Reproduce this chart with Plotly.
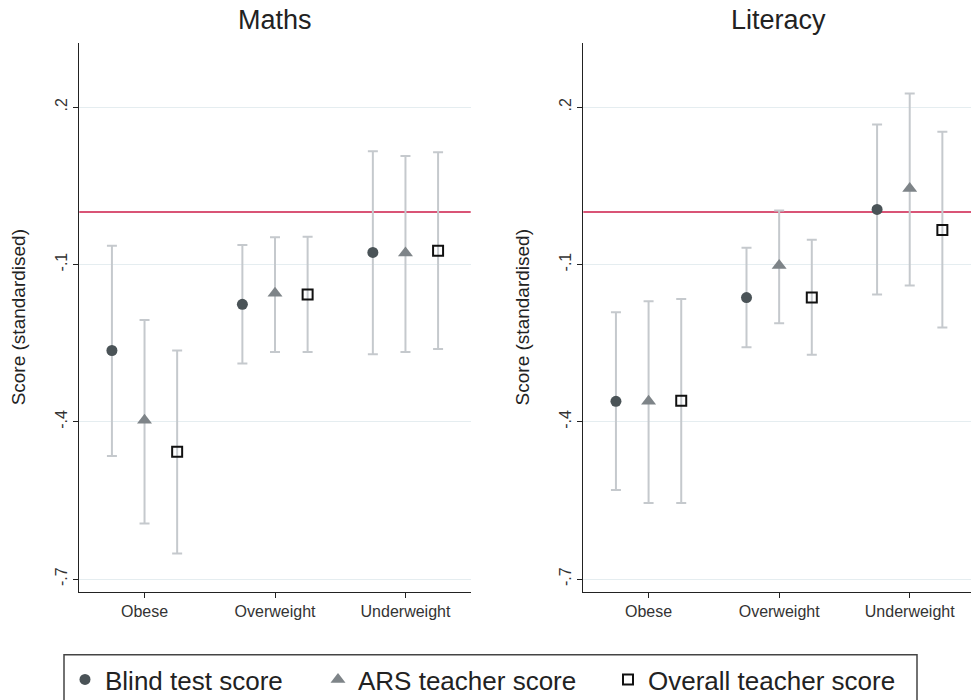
import plotly.graph_objects as go

categories = ["Obese", "Overweight", "Underweight"]
series_names = ["Blind test score", "ARS teacher score", "Overall teacher score"]

# Maths panel: point estimates and 95% CI bounds
maths_blind = [-0.264, -0.176, -0.077]
maths_blind_lo = [-0.465, -0.289, -0.271]
maths_blind_hi = [-0.064, -0.063, 0.116]
maths_ars = [-0.397, -0.155, -0.078]
maths_ars_lo = [-0.594, -0.267, -0.267]
maths_ars_hi = [-0.206, -0.048, 0.107]
maths_overall = [-0.457, -0.157, -0.074]
maths_overall_lo = [-0.651, -0.267, -0.261]
maths_overall_hi = [-0.264, -0.047, 0.114]

# Literacy panel
lit_blind = [-0.361, -0.163, 0.005]
lit_blind_lo = [-0.530, -0.258, -0.157]
lit_blind_hi = [-0.191, -0.068, 0.167]
lit_ars = [-0.361, -0.102, 0.045]
lit_ars_lo = [-0.555, -0.212, -0.140]
lit_ars_hi = [-0.170, 0.003, 0.226]
lit_overall = [-0.360, -0.163, -0.034]
lit_overall_lo = [-0.555, -0.272, -0.220]
lit_overall_hi = [-0.166, -0.053, 0.153]

ytick_vals = [-0.7, -0.4, -0.1, 0.2]
ytick_text = ["-.7", "-.4", "-.1", ".2"]
panel_titles = ["Maths", "Literacy"]
y_title = "Score (standardised)"

W, H = 971, 700
FONT = "Liberation Sans, Arial, sans-serif"

styles = [
    dict(symbol="circle", size=11, color="#4a5357", line=dict(width=0)),
    dict(symbol="triangle-up", size=13, color="#7e8488", line=dict(width=0)),
    dict(symbol="square-open", size=10, color="#111111", line=dict(width=2)),
]
offsets = [-0.25, 0.0, 0.25]
err_color = "#c5c9cd"
legend_ids = ["legend", "legend2", "legend3"]
legend_symbol_px = [84, 337, 627]

panels = [
    ("x", "y", [(maths_blind, maths_blind_lo, maths_blind_hi),
                (maths_ars, maths_ars_lo, maths_ars_hi),
                (maths_overall, maths_overall_lo, maths_overall_hi)]),
    ("x2", "y2", [(lit_blind, lit_blind_lo, lit_blind_hi),
                  (lit_ars, lit_ars_lo, lit_ars_hi),
                  (lit_overall, lit_overall_lo, lit_overall_hi)]),
]

fig = go.Figure()
for p, (xa, ya, series) in enumerate(panels):
    for s, (vals, lo, hi) in enumerate(series):
        xs = [i + 1 + offsets[s] for i in range(len(categories))]
        fig.add_trace(go.Scatter(
            x=xs, y=vals, mode="markers", xaxis=xa, yaxis=ya,
            name=series_names[s], showlegend=(p == 0), legend=legend_ids[s],
            marker=dict(symbol=styles[s]["symbol"], size=styles[s]["size"],
                        color=styles[s]["color"], line=styles[s]["line"]),
            error_y=dict(type="data", symmetric=False,
                         array=[h - v for h, v in zip(hi, vals)],
                         arrayminus=[v - l for v, l in zip(vals, lo)],
                         color=err_color, thickness=2, width=5),
        ))

ydom = [1 - 591.7 / H, 1 - 42.7 / H]
yrange = [-0.724, 0.323]
xdom1 = [79.3 / W, 470.7 / W]
xdom2 = [583.3 / W, 1.0]

axis_common_y = dict(
    range=yrange, tickvals=ytick_vals, ticktext=ytick_text, tickangle=-90,
    ticks="outside", ticklen=5, tickcolor="#222", tickwidth=1,
    showline=True, linecolor="#222", linewidth=1,
    showgrid=True, gridcolor="#e5edf0", gridwidth=1, zeroline=False,
    tickfont=dict(size=16, color="#333", family=FONT),
    title=dict(text=y_title, font=dict(size=19, color="#222", family=FONT), standoff=22),
    domain=ydom,
)
axis_common_x = dict(
    tickvals=[1, 2, 3], ticktext=categories, ticks="outside", ticklen=5,
    tickcolor="#222", tickwidth=1, showline=True, linecolor="#222", linewidth=1,
    showgrid=False, zeroline=False,
    tickfont=dict(size=16, color="#333", family=FONT),
)

legend_common = dict(orientation="h", yanchor="top", xanchor="left",
                     y=1 - 656 / H, borderwidth=0, bgcolor="rgba(0,0,0,0)",
                     font=dict(size=26, color="#222", family=FONT), itemsizing="trace")

fig.update_layout(
    width=W, height=H,
    margin=dict(l=0, r=0, t=0, b=0, autoexpand=False),
    paper_bgcolor="white", plot_bgcolor="white",
    font=dict(family=FONT, color="#222"),
    xaxis=dict(axis_common_x, domain=xdom1, range=[0.5, 3.5], anchor="y"),
    xaxis2=dict(axis_common_x, domain=xdom2, range=[0.5, 3.5 - 4 / 130.5], anchor="y2"),
    yaxis=dict(axis_common_y, anchor="x"),
    yaxis2=dict(axis_common_y, anchor="x2"),
    legend=dict(legend_common, x=(legend_symbol_px[0] - 19) / W),
    legend2=dict(legend_common, x=(legend_symbol_px[1] - 19) / W),
    legend3=dict(legend_common, x=(legend_symbol_px[2] - 19) / W),
    showlegend=True,
)

# legend frame (one box around the three legend entries)
fig.add_shape(type="rect", xref="paper", yref="paper",
              x0=64 / W, x1=917 / W, y0=1 - 710 / H, y1=1 - 654.7 / H,
              line=dict(color="#444", width=1.5), fillcolor="rgba(0,0,0,0)", layer="below")

for xa in ["x", "x2"]:
    fig.add_shape(type="line", xref=f"{xa} domain", yref=xa.replace("x", "y"),
                  x0=0, x1=1, y0=0, y1=0, line=dict(color="#cc1b48", width=1.5), layer="below")

for i, t in enumerate(panel_titles):
    dom = xdom1 if i == 0 else [583.3 / W, (583.3 + 391.4) / W]
    fig.add_annotation(text=t, xref="paper", yref="paper", x=(dom[0] + dom[1]) / 2,
                       y=1 - 20 / H, xanchor="center", yanchor="middle", showarrow=False,
                       font=dict(size=27, color="#222", family=FONT))

fig.write_html("out.html", config={"displayModeBar": False},
               post_script="document.body.style.margin='0px';")
